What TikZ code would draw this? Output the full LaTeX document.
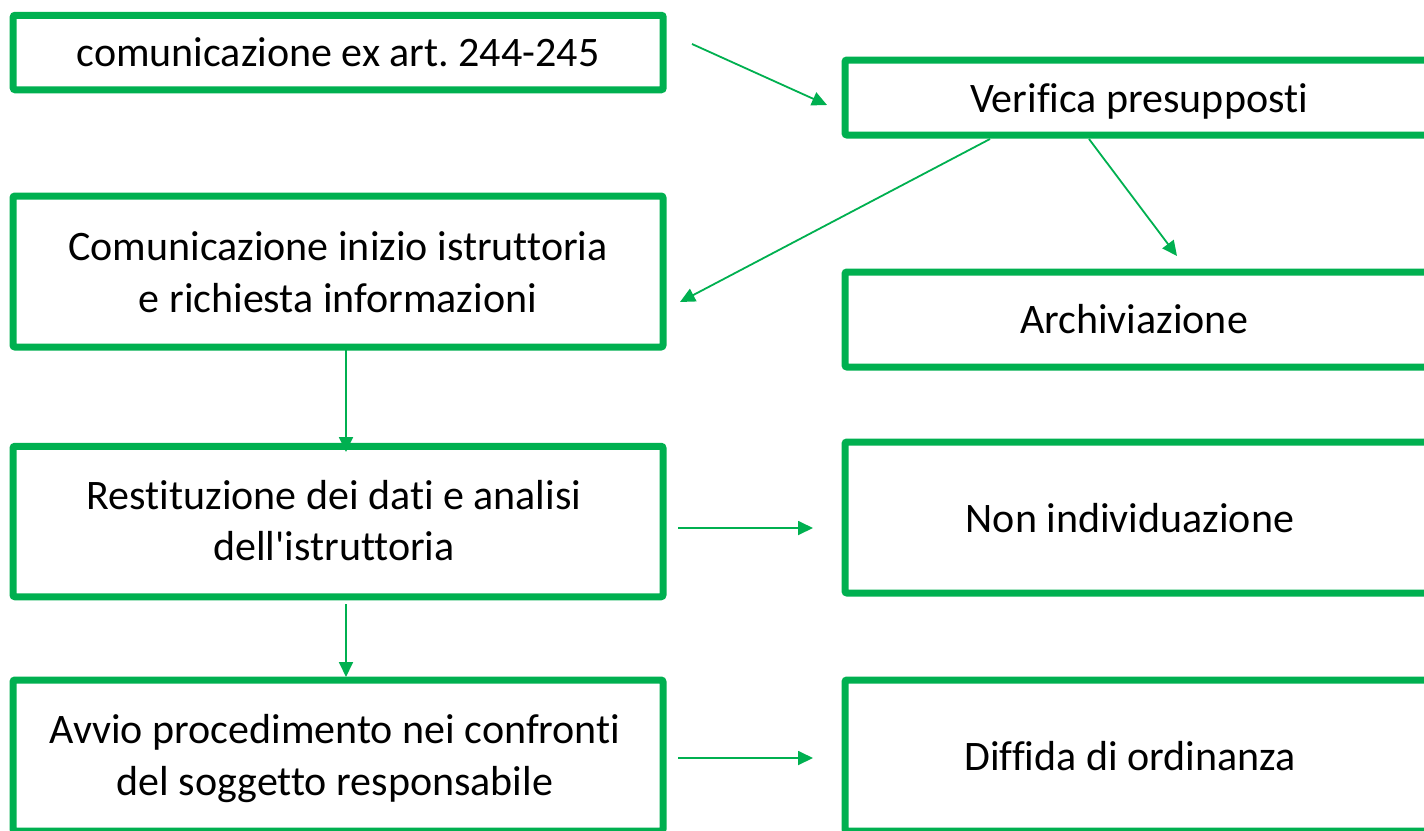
\documentclass[tikz,border=0pt]{standalone}
\usepackage{fontspec}
\setmainfont{Carlito}[Ligatures={TeXOff,NoCommon}]
\usetikzlibrary{arrows.meta}
\definecolor{pgreen}{HTML}{00B050}
\frenchspacing
\tikzset{
  box/.style={draw=pgreen, line width=7pt, rounded corners=2pt, rectangle, inner sep=0pt, outer sep=0pt},
  txt/.style={anchor=base, inner sep=0pt, outer sep=0pt, font=\fontsize{42}{51.5}\selectfont\frenchspacing, text=black},
  conn/.style={draw=pgreen, line width=1.8pt, -{Triangle[length=15pt,width=14pt]}}
}
\newcommand{\twolines}[2]{\begin{tabular}[b]{@{}c@{}}#1\\#2\end{tabular}}
\begin{document}
\begin{tikzpicture}[x=1pt,y=-1pt]
\useasboundingbox (0,0) rectangle (1424,830);
\clip (0,0) rectangle (1424,830);
\fill[white] (0,0) rectangle (1424,830);
% boxes (centre, width, height of the border centre line)
\node[box, minimum width=650pt, minimum height=74.5pt] (b1) at (338.2,52.5) {};
\node[box, minimum width=650pt, minimum height=151pt] (b2) at (338,271.5) {};
\node[box, minimum width=605pt, minimum height=75pt] (b3) at (1147.5,97.5) {};
\node[box, minimum width=605pt, minimum height=95pt] (b4) at (1147.5,319.5) {};
\node[box, minimum width=650pt, minimum height=150.5pt] (b5) at (338,521.5) {};
\node[box, minimum width=650pt, minimum height=151pt] (b6) at (338,755.5) {};
\node[box, minimum width=605pt, minimum height=151pt] (b7) at (1147.5,517.5) {};
\node[box, minimum width=605pt, minimum height=151pt] (b8) at (1147.5,755.5) {};
% texts
\node[txt] (t1) at (338,66.7) {comunicazione ex art. 244-245};
\node[txt] (t2) at (338,312) {\twolines{Comunicazione inizio istruttoria}{e richiesta informazioni}};
\node[txt] (t3) at (1139,112) {Verifica presupposti};
\node[txt] (t4) at (1134,333) {Archiviazione};
\node[txt] (t5) at (334,560.5) {\twolines{Restituzione dei dati e analisi}{dell'istruttoria}};
\node[txt] (t6) at (335,795) {\twolines{Avvio procedimento nei confronti}{del soggetto responsabile}};
\node[txt] (t7) at (1130,532) {Non individuazione};
\node[txt] (t8) at (1130,770) {Diffida di ordinanza};
% connector end points
\coordinate (a1s) at (692,44);   \coordinate (a1e) at (827,105);
\coordinate (a2s) at (990,139);  \coordinate (a2e) at (680,302);
\coordinate (a3s) at (1089,139); \coordinate (a3e) at (1177,256);
\coordinate (a4s) at (346,350);  \coordinate (a4e) at (346,452);
\coordinate (a5s) at (346,604);  \coordinate (a5e) at (346,677);
\coordinate (a6s) at (678,528);  \coordinate (a6e) at (813,528);
\coordinate (a7s) at (678,758);  \coordinate (a7e) at (813,758);
\draw[conn] (a1s) -- (a1e);
\draw[conn] (a2s) -- (a2e);
\draw[conn] (a3s) -- (a3e);
\draw[conn] (a4s) -- (a4e);
\draw[conn] (a5s) -- (a5e);
\draw[conn] (a6s) -- (a6e);
\draw[conn] (a7s) -- (a7e);
\end{tikzpicture}
\end{document}
